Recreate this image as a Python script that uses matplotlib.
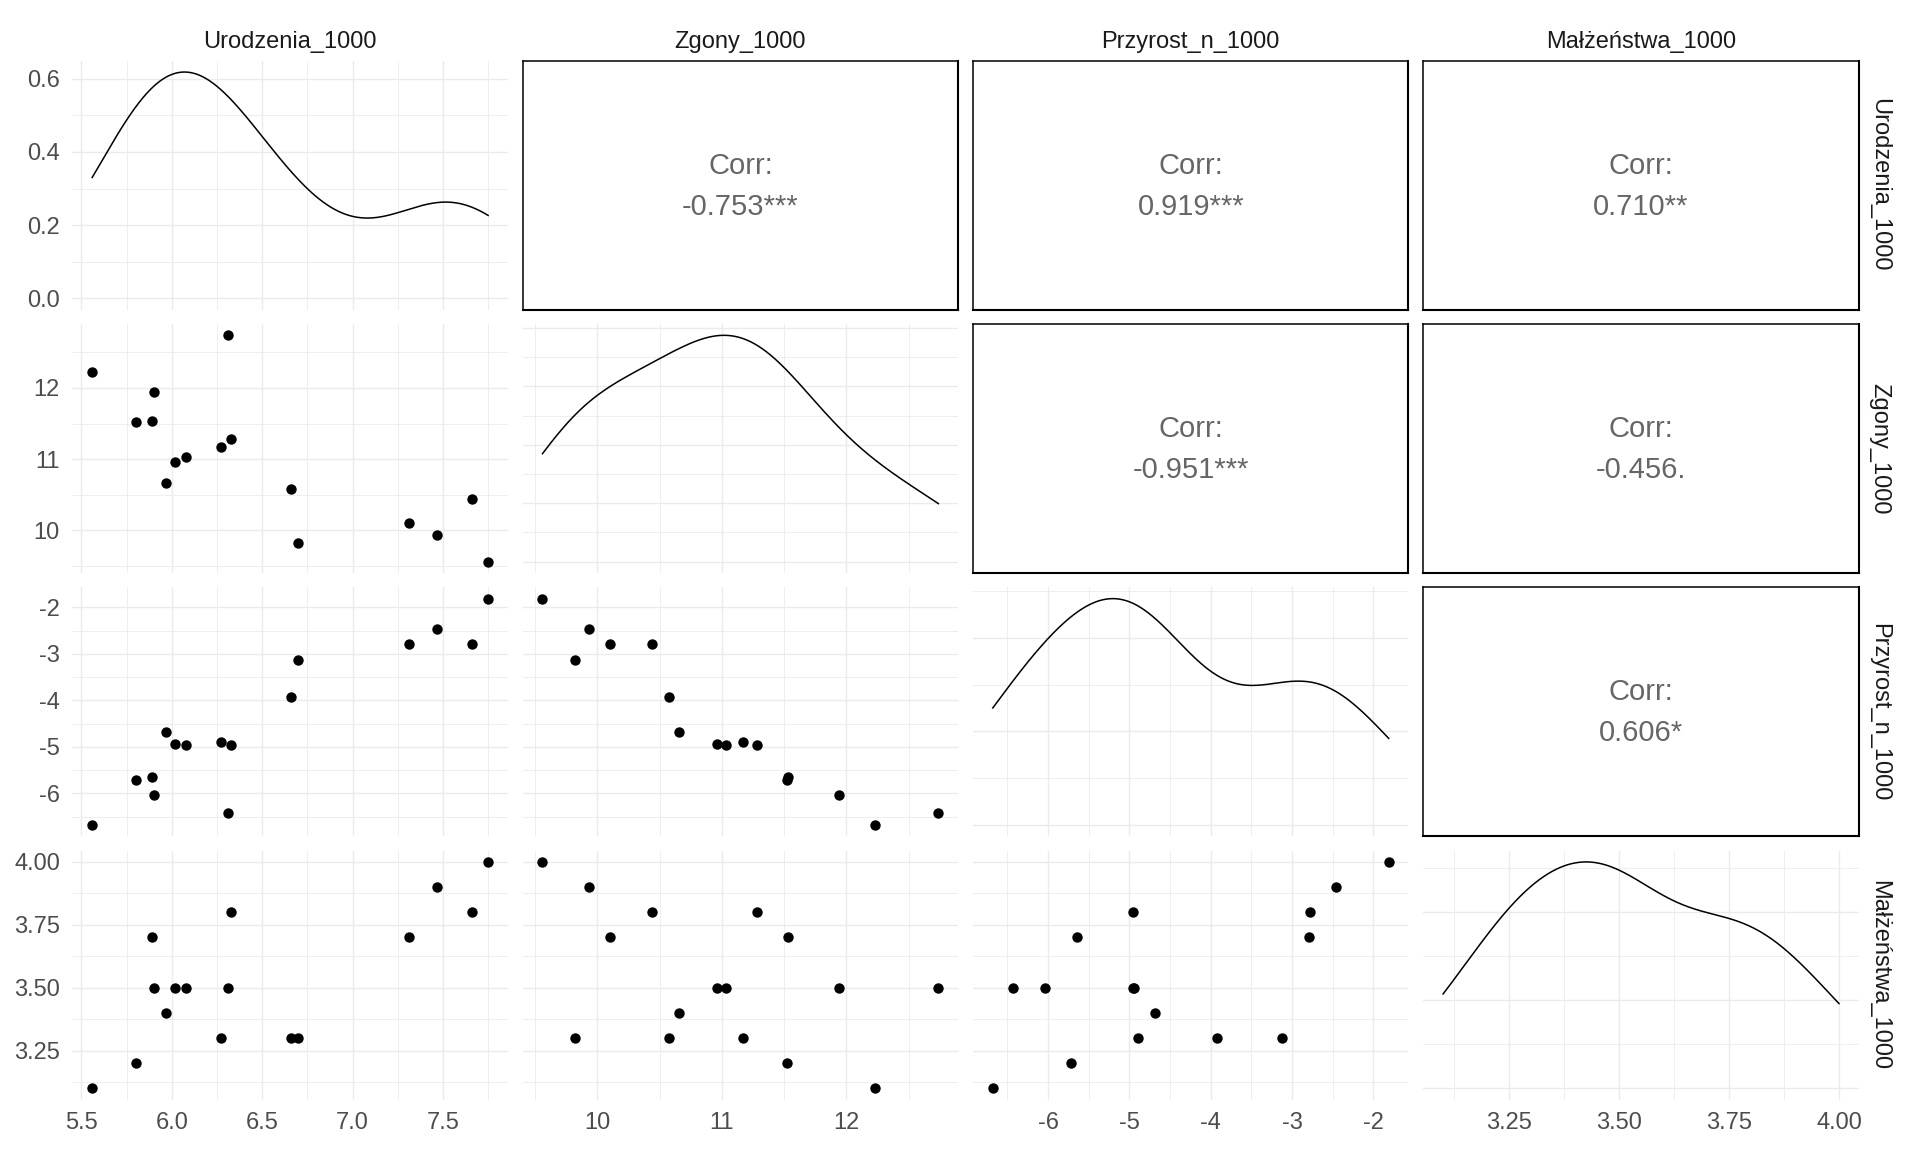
import numpy as np
import matplotlib
matplotlib.use('Agg')
import matplotlib.pyplot as plt
import seaborn as sns
from matplotlib.ticker import AutoMinorLocator, FixedLocator, MaxNLocator

plt.rcParams['font.family'] = ['Liberation Sans', 'DejaVu Sans']

names = ['Urodzenia_1000', 'Zgony_1000', 'Przyrost_n_1000', 'Małżeństwa_1000']
urodzenia = [5.56, 5.80, 5.89, 5.90, 5.97, 6.02, 6.08, 6.27,
             6.31, 6.33, 6.66, 6.70, 7.31, 7.47, 7.66, 7.75]
zgony = [12.23, 11.52, 11.53, 11.94, 10.66, 10.96, 11.03, 11.17,
         12.74, 11.28, 10.58, 9.82, 10.10, 9.93, 10.44, 9.56]
przyrost = [-6.68, -5.72, -5.64, -6.04, -4.69, -4.94, -4.95, -4.90,
            -6.43, -4.95, -3.92, -3.12, -2.79, -2.46, -2.78, -1.81]
malzenstwa = [3.1, 3.2, 3.7, 3.5, 3.4, 3.5, 3.5, 3.3,
              3.5, 3.8, 3.3, 3.3, 3.7, 3.9, 3.8, 4.0]

corr_labels = {(0, 1): '-0.753***', (0, 2): '0.919***', (0, 3): '0.710**',
               (1, 2): '-0.951***', (1, 3): '-0.456.', (2, 3): '0.606*'}

var_ticks = [[5.5, 6.0, 6.5, 7.0, 7.5], [10, 11, 12],
             [-6, -5, -4, -3, -2], [3.25, 3.50, 3.75, 4.00]]
var_fmt = ['{:.1f}', '{:.0f}', '{:.0f}', '{:.2f}']
density_ticks = [0.0, 0.2, 0.4, 0.6]

data = [np.array(urodzenia), np.array(zgony), np.array(przyrost), np.array(malzenstwa)]

# --- layout (pixels of a 1920x1152 canvas) ---
W, H = 1920, 1152
col_left = [72.4, 522.7, 973.0, 1423.3]
row_top = [60.7, 324.0, 587.3, 850.6]
pw, ph = 435.5, 249.0

grid_col = '#EBEBEB'
tick_col = '#4D4D4D'
strip_col = '#1A1A1A'
fs = 17


def fmt_label(f, v):
    return f.format(v).replace('\u2212', '-')


def limits(v):
    lo, hi = v.min(), v.max()
    pad = 0.05 * (hi - lo)
    return lo - pad, hi + pad


def bw_nrd0(v):
    # same rule as R's density() default
    sd = v.std(ddof=1)
    q75, q25 = np.percentile(v, [75, 25])
    lo = min(sd, (q75 - q25) / 1.34)
    if lo <= 0:
        lo = sd
    return 0.9 * lo * len(v) ** -0.2


def style_grid(ax):
    ax.set_facecolor('white')
    for s in ax.spines.values():
        s.set_visible(False)
    ax.set_axisbelow(True)
    ax.xaxis.set_minor_locator(AutoMinorLocator(2))
    ax.yaxis.set_minor_locator(AutoMinorLocator(2))
    ax.grid(True, which='major', color=grid_col, lw=1.0)
    ax.grid(True, which='minor', color=grid_col, lw=0.6)


fig = plt.figure(figsize=(W / 100, H / 100), dpi=100, facecolor='white')

for i in range(4):
    for j in range(4):
        rect = [col_left[j] / W, 1 - (row_top[i] + ph) / H, pw / W, ph / H]
        ax = fig.add_axes(rect)
        ax.tick_params(which='both', length=0, labelsize=fs, labelcolor=tick_col, pad=9)
        xv, yv = data[j], data[i]

        if j > i:
            # correlation box
            ax.set_xticks([])
            ax.set_yticks([])
            for side, s in ax.spines.items():
                s.set_color('black')
                s.set_linewidth(1.5 if side in ('right', 'bottom') else 1.1)
            ax.text(0.5, 0.578, 'Corr:', ha='center', va='center',
                    fontsize=21, color='#666666', transform=ax.transAxes)
            ax.text(0.5, 0.414, corr_labels[(i, j)], ha='center', va='center',
                    fontsize=21, color='#666666', transform=ax.transAxes)
            continue

        style_grid(ax)
        ax.set_xlim(*limits(xv))
        ax.xaxis.set_major_locator(FixedLocator(var_ticks[j]))

        if i == j:
            sns.kdeplot(x=xv, ax=ax, bw_method=bw_nrd0(xv) / xv.std(ddof=1),
                        cut=0, gridsize=512, color='black', lw=1.1)
            ymax = ax.lines[-1].get_ydata().max()
            ax.set_ylim(-0.05 * ymax, 1.05 * ymax)
            if i == 0:
                ax.yaxis.set_major_locator(FixedLocator(density_ticks))
                ax.set_yticklabels([fmt_label('{:.1f}', t) for t in density_ticks])
            else:
                ax.yaxis.set_major_locator(MaxNLocator(5, steps=[1, 2, 2.5, 5, 10]))
            ax.yaxis.set_minor_locator(AutoMinorLocator(2))
        else:
            ax.scatter(xv, yv, s=56, color='black', linewidths=0, zorder=3)
            ax.set_ylim(*limits(yv))
            ax.yaxis.set_major_locator(FixedLocator(var_ticks[i]))
            ax.set_yticklabels([fmt_label(var_fmt[i], t) for t in var_ticks[i]])
        ax.set_xlabel('')
        ax.set_ylabel('')

        if i == 3:
            ax.set_xticklabels([fmt_label(var_fmt[j], t) for t in var_ticks[j]])
        else:
            ax.tick_params(labelbottom=False)
        if j != 0:
            ax.tick_params(labelleft=False)

# strips
for k, name in enumerate(names):
    cx = (col_left[k] + pw / 2) / W
    fig.text(cx, 1 - 47.7 / H, name, ha='center', va='baseline',
             fontsize=fs, color=strip_col)
    cy = 1 - (row_top[k] + ph / 2) / H
    fig.text(1879 / W, cy, name, ha='center', va='center', rotation=-90,
             fontsize=fs, color=strip_col)

fig.savefig('out.png', dpi=100, facecolor='white')
